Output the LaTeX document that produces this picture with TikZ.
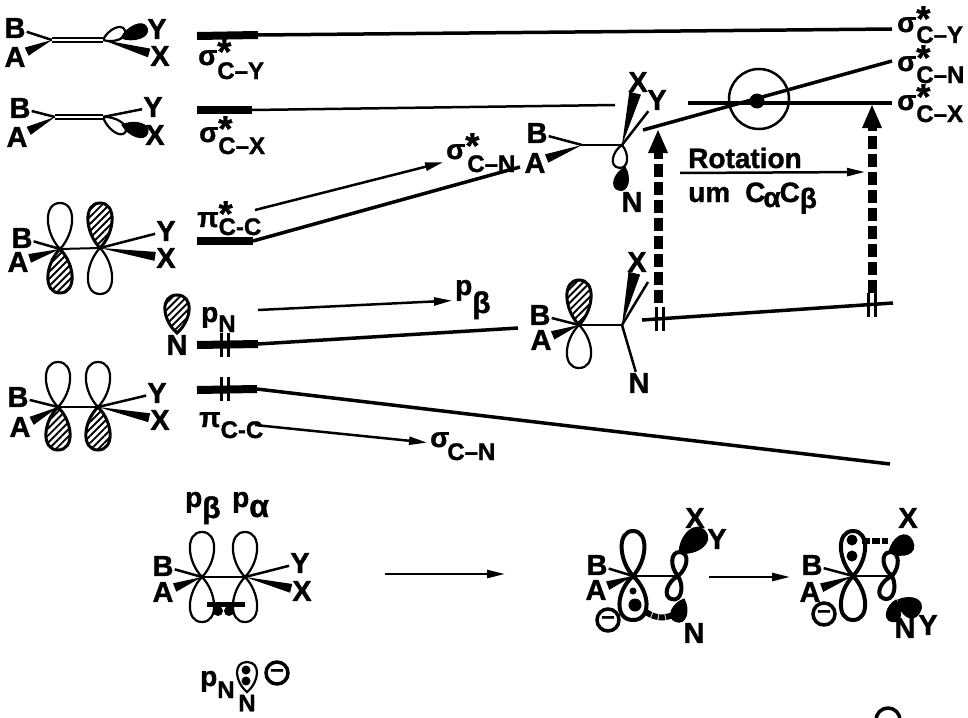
\documentclass[tikz,border=0pt]{standalone}
\usepackage{fontspec}
\setmainfont{Liberation Sans}[BoldFeatures={FakeBold=1.2}]
\usetikzlibrary{arrows.meta,calc,patterns.meta}

\tikzset{
    atomlabel/.style={inner sep=1pt,font=\bfseries\fontsize{29}{29}\selectfont},
    orblabel/.style={inner sep=0pt,anchor=base west,font=\bfseries\fontsize{28}{28}\selectfont},
    bondline/.style={line width=2.5pt},
    ccbond/.style={line width=2pt},
    ccdouble/.style={line width=2pt,double=white,double distance=1.4pt},
    levelbar/.style={line width=8pt},
    levelline/.style={line width=3.5pt},
    tickline/.style={line width=3pt},
    dasharrow/.style={line width=9pt,dash pattern=on 13pt off 5pt,-{Triangle[length=24pt,width=18pt]}},
    thinarrow/.style={line width=2.5pt,-{Triangle[length=18pt,width=8pt]}},
    openlobe/.style={draw,line width=2.2pt,fill=white},
    hatchlobe/.style={draw,line width=3pt,fill=white,postaction={pattern={Lines[angle=45,distance=5pt,line width=1.9pt]}}},
    darklobe/.style={draw,line width=1pt,fill=black},
    boldlobe/.style={draw,line width=4pt,fill=white},
    charge/.style={circle,draw,line width=3.5pt,minimum size=22pt,inner sep=0pt,font=\bfseries\fontsize{24}{24}\selectfont},
}

% lobe: [style]{start}{angle}{length}{width}
\newcommand{\lobe}[5][openlobe]{
    \path[#1,shift={(#2)},rotate=#3] (0,0) .. controls (0.9*#5,0.35*#4) and (#5,#4) .. (0,#4) .. controls (-#5,#4) and (-0.9*#5,0.35*#4) .. (0,0) -- cycle;
}
% wedge: {from}{to}{half width}
\newcommand{\wedgebond}[3]{
    \path (#1) -- (#2) coordinate[pos=1] (wedgeend);
    \fill (#1) -- ($(wedgeend)!#3!90:(#1)$) -- ($(wedgeend)!#3!-90:(#1)$) -- cycle;
}
\newcommand{\ticks}[1]{
    \draw[tickline,shift={(#1)}] (-3.5,-12) -- (-3.5,12) (3.5,-12) -- (3.5,12);
}
\newcommand{\orbstar}[3]{#1\rlap{\fontsize{36}{36}\selectfont\raisebox{1pt}{*}}\raisebox{#3}{\fontsize{24}{24}\selectfont #2}}
\newcommand{\orbsub}[3]{#1\raisebox{#3}{\fontsize{24}{24}\selectfont #2}}

\begin{document}
\begin{tikzpicture}[x=1pt,y=-1pt]
    \useasboundingbox (0,0) rectangle (968,717);

    % sigma* C-Y
    \node[atomlabel] (B1) at (15,28) {B};
    \node[atomlabel] (A1) at (15,57) {A};
    \node[atomlabel] (Y1) at (157,29) {Y};
    \node[atomlabel] (X1) at (160,56) {X};
    \coordinate (ca1) at (52,40);
    \coordinate (cb1) at (103,40);
    \lobe{cb1}{114}{24}{8.5}
    \lobe[darklobe]{$(cb1)+(18,-2)$}{111}{28}{10}
    \draw[bondline] (ca1) -- (B1);
    \wedgebond{ca1}{A1}{4.5pt}
    \draw[ccdouble] (ca1) -- (cb1);
    \wedgebond{cb1}{X1}{4.5pt}

    % sigma* C-X
    \node[atomlabel] (B2) at (20,108) {B};
    \node[atomlabel] (A2) at (17,137) {A};
    \node[atomlabel] (Y2) at (153,107) {Y};
    \node[atomlabel] (X2) at (155,135) {X};
    \coordinate (ca2) at (55,117);
    \coordinate (cb2) at (103,117);
    \lobe{cb2}{56}{27}{8.5}
    \lobe[darklobe]{$(cb2)+(19,8)$}{73}{27}{10}
    \draw[bondline] (ca2) -- (B2);
    \wedgebond{ca2}{A2}{4.5pt}
    \draw[ccdouble] (ca2) -- (cb2);
    \draw[bondline] (cb2) -- (Y2);

    % pi*
    \node[atomlabel] (B3) at (22,238) {B};
    \node[atomlabel] (A3) at (18,262) {A};
    \node[atomlabel] (Y3) at (166,231) {Y};
    \node[atomlabel] (X3) at (166,258) {X};
    \coordinate (ca3) at (60,249);
    \coordinate (cb3) at (100,248);
    \lobe{ca3}{180}{46}{17}
    \lobe[hatchlobe]{ca3}{0}{44}{17}
    \lobe[hatchlobe]{cb3}{180}{45}{17}
    \lobe{cb3}{0}{46}{17}
    \draw[bondline] (ca3) -- (B3);
    \wedgebond{ca3}{A3}{4.5pt}
    \draw[ccbond] (ca3) -- (cb3);
    \draw[bondline] (cb3) -- (Y3);
    \wedgebond{cb3}{X3}{4.5pt}

    % N lone pair
    \node[atomlabel] (N4) at (177,345) {N};
    \lobe[hatchlobe]{177,333}{180}{38}{17}
    \node[orblabel] (pN4) at (201,322) {\orbsub{p}{N}{-10pt}};

    % pi
    \node[atomlabel] (B5) at (18,397) {B};
    \node[atomlabel] (A5) at (20,427) {A};
    \node[atomlabel] (Y5) at (157,393) {Y};
    \node[atomlabel] (X5) at (160,420) {X};
    \coordinate (ca5) at (58,407);
    \coordinate (cb5) at (98,407);
    \lobe{ca5}{180}{45}{17}
    \lobe[hatchlobe]{ca5}{0}{43}{17}
    \lobe{cb5}{180}{45}{17}
    \lobe[hatchlobe]{cb5}{0}{43}{17}
    \draw[bondline] (ca5) -- (B5);
    \wedgebond{ca5}{A5}{4.5pt}
    \draw[ccbond] (ca5) -- (cb5);
    \draw[bondline] (cb5) -- (Y5);
    \wedgebond{cb5}{X5}{4.5pt}

    % levels on the left
    \coordinate (syl) at (197,36);
    \coordinate (syk) at (258,35);
    \coordinate (syr) at (892,29);
    \draw[levelbar] (syl) -- (syk);
    \draw[levelline] (syk) -- (syr);
    \node[orblabel] (lsy) at (198,65) {\orbstar{σ}{C--Y}{-14pt}};

    \coordinate (sxl) at (197,110);
    \coordinate (sxk) at (252,110);
    \coordinate (sxr) at (615,105);
    \draw[levelbar] (sxl) -- (sxk);
    \draw[line width=2.5pt] (sxk) -- (sxr);
    \node[orblabel] (lsx) at (199,142) {\orbstar{σ}{C--X}{-12pt}};

    \coordinate (pstl) at (197,241);
    \coordinate (pstk) at (253,241);
    \coordinate (pstr) at (520,167);
    \coordinate (pstu) at (255,210);
    \draw[levelbar] (pstl) -- (pstk);
    \draw[levelline] (pstk) -- (pstr);
    \node[orblabel] (lpst) at (197,227) {\orbstar{π}{C-C}{-8pt}};
    \node[orblabel] (lsn) at (446,159) {\orbstar{σ}{\kern2pt C--N}{-13pt}};
    \draw[thinarrow,shorten >=3pt] (pstu) -- (lsn);

    \coordinate (pnl) at (197,345);
    \coordinate (pnk) at (258,344);
    \coordinate (pnr) at (518,328);
    \coordinate (pnu) at (258,310);
    \draw[levelbar] (pnl) -- (pnk);
    \draw[levelline] (pnk) -- (pnr);
    \coordinate (tk1) at (224.5,345);
    \ticks{tk1}
    \node[orblabel] (lpb) at (455,295) {\orbsub{p}{\fontsize{30}{30}\selectfont β}{-18pt}};
    \draw[thinarrow,shorten >=3pt] (pnu) -- (lpb);

    \coordinate (pil) at (197,390);
    \coordinate (pik) at (257,389);
    \coordinate (pir) at (890,464);
    \coordinate (piu) at (255,425);
    \draw[levelbar] (pil) -- (pik);
    \draw[levelline] (pik) -- (pir);
    \coordinate (tk2) at (224.5,389);
    \ticks{tk2}
    \node[orblabel] (lpi) at (199,427) {\orbsub{π}{C-C}{-11pt}};
    \node[orblabel] (lsc) at (430,447) {\orbsub{σ}{\kern-2pt C--N}{-13pt}};
    \draw[thinarrow,shorten >=3pt] (piu) -- (lsc);

    % rotated molecule, upper
    \node[atomlabel] (B6) at (537,133) {B};
    \node[atomlabel] (A6) at (535,163) {A};
    \node[atomlabel] (X6) at (638,82) {X};
    \node[atomlabel] (Y6) at (657,100) {Y};
    \node[atomlabel] (N6) at (632,202) {N};
    \coordinate (ca6) at (582,145);
    \coordinate (cb6) at (622,145);
    \lobe{cb6}{-8}{23}{10}
    \lobe[darklobe]{$(cb6)+(3,22)$}{-15}{24}{10}
    \draw[bondline] (ca6) -- (B6);
    \wedgebond{ca6}{A6}{4.5pt}
    \draw[ccbond] (ca6) -- (cb6);
    \wedgebond{cb6}{X6}{6pt}
    \draw[bondline] (cb6) -- (Y6);

    % rotated molecule, lower
    \node[atomlabel] (B7) at (540,315) {B};
    \node[atomlabel] (A7) at (541,340) {A};
    \node[atomlabel] (X7) at (637,262) {X};
    \node[atomlabel] (N7) at (639,383) {N};
    \coordinate (ca7) at (579,325);
    \coordinate (cb7) at (622,325);
    \lobe[hatchlobe]{ca7}{180}{45}{17}
    \lobe{ca7}{0}{43}{17}
    \draw[bondline] (ca7) -- (B7);
    \wedgebond{ca7}{A7}{4.5pt}
    \draw[ccbond] (ca7) -- (cb7);
    \wedgebond{cb7}{X7}{6pt}
    \coordinate (yend7) at (648,282);
    \draw[bondline] (cb7) -- (yend7);
    \draw[bondline] (cb7) -- (N7);

    % levels on the right
    \coordinate (snl) at (643,130);
    \coordinate (snr) at (892,61);
    \coordinate (scl) at (688,103);
    \coordinate (scr) at (892,103);
    \coordinate (lpl) at (642,320);
    \coordinate (lpr) at (893,303);
    \draw[levelline] (snl) -- (snr);
    \draw[levelline] (scl) -- (scr);
    \draw[levelline] (lpl) -- (lpr);
    \coordinate (tk3) at (660,319);
    \coordinate (tk4) at (872,305);
    \ticks{tk3}
    \ticks{tk4}
    \node[circle,draw,line width=2.5pt,minimum size=60pt,inner sep=0pt] (cross) at (759,99) {};
    \fill (757,101) circle[radius=7.5];
    \coordinate (dla) at (658,303);
    \coordinate (dlb) at (658,129);
    \coordinate (dra) at (872,293);
    \coordinate (drb) at (872,104);
    \draw[dasharrow] (dla) -- (dlb);
    \draw[dasharrow] (dra) -- (drb);
    \node[orblabel] (rsy) at (897,32) {\orbstar{σ}{C--Y}{-11pt}};
    \node[orblabel] (rsn) at (897,71) {\orbstar{σ}{C--N}{-12pt}};
    \node[orblabel] (rsx) at (897,110) {\orbstar{σ}{C--X}{-12pt}};

    % rotation
    \node[orblabel] (rot) at (688,168) {Rotation};
    \node[orblabel] (um) at (688,202) {um\hspace{15pt}C\kern-2pt\raisebox{-5pt}{α}\kern-1pt C\raisebox{-6pt}{β}};
    \coordinate (rota) at (680,173);
    \coordinate (rotb) at (865,172);
    \draw[thinarrow] (rota) -- (rotb);

    % bottom, p orbitals
    \node[orblabel] (pb8) at (185,507) {\orbsub{p}{\fontsize{30}{30}\selectfont β}{-11pt}};
    \node[orblabel] (pa8) at (232,507) {\orbsub{p}{\fontsize{32}{32}\selectfont α}{-10pt}};
    \node[atomlabel] (B8) at (163,566) {B};
    \node[atomlabel] (A8) at (163,592) {A};
    \node[atomlabel] (Y8) at (300,563) {Y};
    \node[atomlabel] (X8) at (302,591) {X};
    \coordinate (ca8) at (202,577);
    \coordinate (cb8) at (245,577);
    \lobe{ca8}{180}{45}{17}
    \lobe{ca8}{0}{45}{17}
    \lobe{cb8}{180}{45}{17}
    \lobe{cb8}{0}{45}{17}
    \draw[bondline] (ca8) -- (B8);
    \wedgebond{ca8}{A8}{4.5pt}
    \draw[ccbond] (ca8) -- (cb8);
    \draw[bondline] (cb8) -- (Y8);
    \wedgebond{cb8}{X8}{4.5pt}
    \coordinate (bar1) at (207,604);
    \coordinate (bar2) at (245,604);
    \draw[line width=5pt] (bar1) -- (bar2);
    \fill (218,611) circle[radius=5] (229,611) circle[radius=5];

    \node[orblabel] (pn9) at (200,686) {\orbsub{p}{N}{-12pt}};
    \node[atomlabel,font=\bfseries\fontsize{24}{24}\selectfont] (N9) at (247,703) {N};
    \lobe{247,692}{180}{30}{14}
    \fill (246,670) circle[radius=4.5] (246,681) circle[radius=4.5];
    \node[charge] (m9) at (277,673) {--};

    % long arrows
    \coordinate (ara) at (385,574);
    \coordinate (arb) at (505,574);
    \draw[thinarrow] (ara) -- (arb);
    \coordinate (arc) at (709,577);
    \coordinate (ard) at (790,577);
    \draw[thinarrow] (arc) -- (ard);

    % bottom, delocalised
    \node[atomlabel] (B10) at (597,565) {B};
    \node[atomlabel] (A10) at (596,590) {A};
    \node[atomlabel] (X10) at (695,518) {X};
    \node[atomlabel] (Y10) at (717,539) {Y};
    \node[atomlabel] (N10) at (694,633) {N};
    \node[charge] (m10) at (608,620) {--};
    \coordinate (ca10) at (633,576);
    \coordinate (cb10) at (678,576);
    \lobe[boldlobe]{ca10}{180}{45}{16}
    \lobe[boldlobe]{ca10}{0}{44}{19}
    \fill (633,591) circle[radius=3.5] (635,605) circle[radius=6.5];
    \lobe[boldlobe]{cb10}{175}{24}{10}
    \lobe[darklobe]{$(cb10)+(1,-23)$}{130}{34}{15}
    \lobe[boldlobe]{cb10}{-15}{24}{10}
    \lobe[darklobe]{$(cb10)+(6,23)$}{-20}{24}{11}
    \draw[bondline] (ca10) -- (B10);
    \wedgebond{ca10}{A10}{4.5pt}
    \draw[ccbond] (ca10) -- (cb10);
    \draw[line width=6pt,dash pattern=on 6pt off 1pt] (646,612) .. controls (657,620) and (672,620) .. (684,606);

    \node[atomlabel] (B11) at (812,565) {B};
    \node[atomlabel] (A11) at (810,592) {A};
    \node[atomlabel] (X11) at (908,518) {X};
    \node[atomlabel] (Y11) at (928,625) {Y};
    \node[atomlabel] (N11) at (905,628) {N};
    \node[charge] (m11) at (824,614) {--};
    \coordinate (ca11) at (853,576);
    \coordinate (cb11) at (892,576);
    \lobe[boldlobe]{ca11}{180}{45}{17}
    \lobe[boldlobe]{ca11}{0}{44}{17}
    \fill (852,540) circle[radius=5.5] (852,556) circle[radius=5.5];
    \lobe[boldlobe]{cb11}{185}{24}{10}
    \lobe[darklobe]{$(cb11)+(-3,-24)$}{115}{26}{14}
    \lobe[boldlobe]{cb11}{-20}{24}{10}
    \lobe[darklobe]{$(cb11)+(6,24)$}{60}{25}{14}
    \lobe[darklobe]{$(cb11)+(4,24)$}{-10}{22}{10}
    \draw[bondline] (ca11) -- (B11);
    \wedgebond{ca11}{A11}{4.5pt}
    \draw[ccbond] (ca11) -- (cb11);
    \draw[line width=6pt,dash pattern=on 8pt off 2pt] (862,541) -- (888,541);
    \draw[line width=3.5pt] (876,720) arc[start angle=180,end angle=360,radius=12];
\end{tikzpicture}
\end{document}
